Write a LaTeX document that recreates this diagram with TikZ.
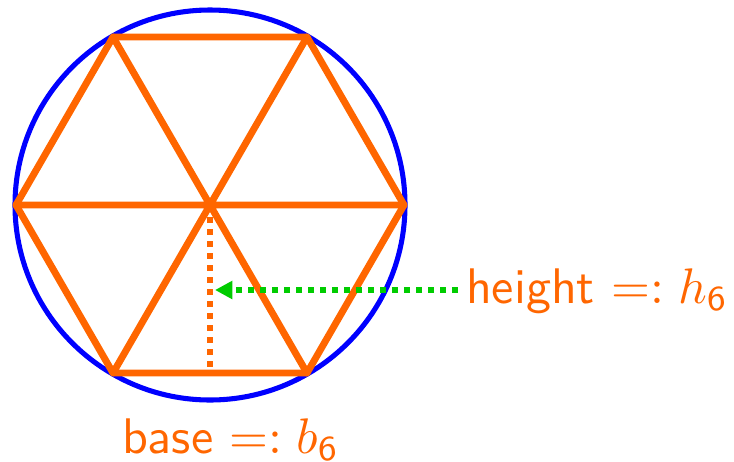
\documentclass[tikz,border=0pt]{standalone}
\usetikzlibrary{arrows.meta,calc}
\definecolor{hexor}{RGB}{255,102,0}
\definecolor{arrgr}{RGB}{0,204,0}
\definecolor{circbl}{RGB}{0,0,255}
\begin{document}
\begin{tikzpicture}[x=0.75pt,y=-0.75pt,
  hexline/.style={draw=hexor,line width=5.2pt,line cap=round,line join=round},
  lbl/.style={text=hexor,font=\sffamily\fontsize{10}{12}\selectfont,inner sep=0pt,scale=3.75}]
\useasboundingbox (0,0) rectangle (734,461);
\coordinate (c) at (210,205);
\draw[circbl,line width=3.8pt] (c) circle[radius=195];
\path (c) ++(0:194) coordinate (v0) (c) ++(60:194) coordinate (v1) (c) ++(120:194) coordinate (v2)
 (c) ++(180:194) coordinate (v3) (c) ++(240:194) coordinate (v4) (c) ++(300:194) coordinate (v5);
\draw[hexline] (v0) -- (v1) -- (v2) -- (v3) -- (v4) -- (v5) -- cycle;
\draw[hexline] (v0) -- (v3) (v1) -- (v4) (v2) -- (v5);
\coordinate (bm) at ($(v1)!0.5!(v2)$);
\draw[hexor,line width=4.5pt,dash pattern=on 4.5pt off 4.5pt] (c) -- (bm);
\node[lbl,anchor=base west] (h) at (465,303) {height $=:h_{\mathsf{6}}$};
\node[lbl,anchor=base west] (b) at (121,453) {base $=:b_{\mathsf{6}}$};
\coordinate (ht) at (215,290);
\coordinate (hs) at (458,290);
\draw[arrgr,line width=4.5pt,dash pattern=on 4.5pt off 4.5pt,-{Triangle[length=13pt,width=13pt]}] (hs) -- (ht);
\end{tikzpicture}
\end{document}
